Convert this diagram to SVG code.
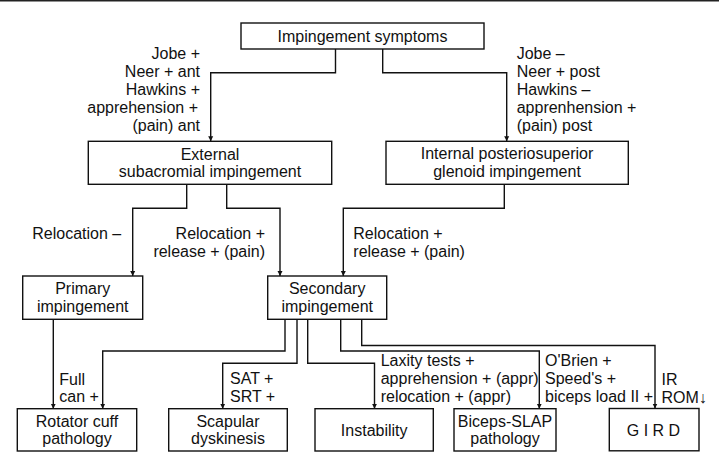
<svg xmlns="http://www.w3.org/2000/svg" width="719" height="468" viewBox="0 0 719 468">
<defs>
<marker id="ah" viewBox="0 0 10 10" refX="10" refY="5" markerWidth="5" markerHeight="6.5" markerUnits="userSpaceOnUse" orient="auto">
<path d="M0,0 L10,5 L0,10 z" fill="#111"/>
</marker>
<style>
.box{fill:#fff;stroke:#111;stroke-width:1.4}
.t{font-family:"Liberation Sans",Arial,sans-serif;font-size:16px;fill:#111}
.c{text-anchor:middle}
.e{text-anchor:end}
.cn{fill:none;stroke:#111;stroke-width:1.4;marker-end:url(#ah)}
</style>
</defs>
<rect width="719" height="468" fill="#fff"/>
<line x1="0" y1="0.7" x2="719" y2="0.7" stroke="#222" stroke-width="1.6"/>

<g id="connectors">
<path class="cn" d="M335.5,49 V72.7 H210.7 V141.3"/>
<path class="cn" d="M382.7,49 V72.7 H506.7 V141.3"/>
<path class="cn" d="M186.7,184.3 V208.3 H132.7 V276"/>
<path class="cn" d="M226.7,184.3 V208.3 H280 V276"/>
<path class="cn" d="M504.3,184.3 V208.3 H343.3 V276"/>
<path class="cn" d="M53.3,319.3 V408.7"/>
<path class="cn" d="M285,319.3 V351 H102.7 V408.7"/>
<path class="cn" d="M297,319.3 V363.3 H222.7 V408.7"/>
<path class="cn" d="M307.7,319.3 V363.3 H374.5 V408.7"/>
<path class="cn" d="M340.7,319.3 V351 H539.3 V408.7"/>
<path class="cn" d="M361.7,319.3 V345.5 H655 V408.5"/>
</g>

<g id="labels">
<text class="t e" x="200" y="58.7">Jobe +</text>
<text class="t e" x="200" y="76.7">Neer + ant</text>
<text class="t e" x="200" y="94.7">Hawkins +</text>
<text class="t e" x="198" y="112.7">apprehension +</text>
<text class="t e" x="200" y="130.7">(pain) ant</text>
<text class="t" x="516.7" y="58.7">Jobe –</text>
<text class="t" x="516.7" y="76.7">Neer + post</text>
<text class="t" x="516.7" y="94.7">Hawkins –</text>
<text class="t" x="516.7" y="112.7">apprenhension +</text>
<text class="t" x="516.7" y="130.7">(pain) post</text>
<text class="t" x="32.3" y="238.5">Relocation –</text>
<text class="t e" x="265" y="238.5">Relocation +</text>
<text class="t e" x="265" y="256.8">release + (pain)</text>
<text class="t" x="353.3" y="238.5">Relocation +</text>
<text class="t" x="353.3" y="256.8">release + (pain)</text>
<text class="t" x="59.3" y="384.5">Full</text>
<text class="t" x="59.3" y="402.3">can +</text>
<text class="t" x="230" y="384">SAT +</text>
<text class="t" x="230" y="402">SRT +</text>
<text class="t" x="380.7" y="366">Laxity tests +</text>
<text class="t" x="380.7" y="384">apprehension + (appr)</text>
<text class="t" x="380.7" y="402">relocation + (appr)</text>
<text class="t" x="545" y="366">O'Brien +</text>
<text class="t" x="545" y="384">Speed's +</text>
<text class="t" x="545" y="402">biceps load II +</text>
<text class="t" x="661.5" y="385">IR</text>
<text class="t" x="661.5" y="403">ROM↓</text>
</g>

<g id="n-symptoms">
<rect class="box" x="241" y="23" width="243" height="26"/>
<text class="t c" x="362.5" y="42">Impingement symptoms</text>
</g>
<g id="n-external">
<rect class="box" x="88.3" y="141.3" width="243.4" height="43"/>
<text class="t c" x="210" y="159.5">External</text>
<text class="t c" x="210" y="176.5">subacromial impingement</text>
</g>
<g id="n-internal">
<rect class="box" x="386" y="141.3" width="242.3" height="43"/>
<text class="t c" x="507" y="159">Internal posteriosuperior</text>
<text class="t c" x="507" y="176.5">glenoid impingement</text>
</g>
<g id="n-primary">
<rect class="box" x="22.7" y="276" width="120" height="43.3"/>
<text class="t c" x="82.7" y="294">Primary</text>
<text class="t c" x="82.7" y="312">impingement</text>
</g>
<g id="n-secondary">
<rect class="box" x="267.7" y="276" width="119" height="43.3"/>
<text class="t c" x="327.2" y="294">Secondary</text>
<text class="t c" x="327.2" y="312">impingement</text>
</g>
<g id="n-rotator">
<rect class="box" x="17.3" y="408.7" width="119.4" height="42.3"/>
<text class="t c" x="77" y="426.5">Rotator cuff</text>
<text class="t c" x="77" y="444">pathology</text>
</g>
<g id="n-scapular">
<rect class="box" x="168.7" y="408.7" width="118.6" height="42.3"/>
<text class="t c" x="228" y="426.5">Scapular</text>
<text class="t c" x="228" y="444">dyskinesis</text>
</g>
<g id="n-instability">
<rect class="box" x="315" y="408.7" width="118.3" height="42.3"/>
<text class="t c" x="374.2" y="435.5">Instability</text>
</g>
<g id="n-biceps">
<rect class="box" x="454" y="408.7" width="102" height="42.3"/>
<text class="t c" x="505" y="426.5">Biceps-SLAP</text>
<text class="t c" x="505" y="444">pathology</text>
</g>
<g id="n-gird">
<rect class="box" x="609.3" y="408.5" width="89.7" height="42.3"/>
<text class="t c" x="653.5" y="435.5">G I R D</text>
</g>
</svg>
